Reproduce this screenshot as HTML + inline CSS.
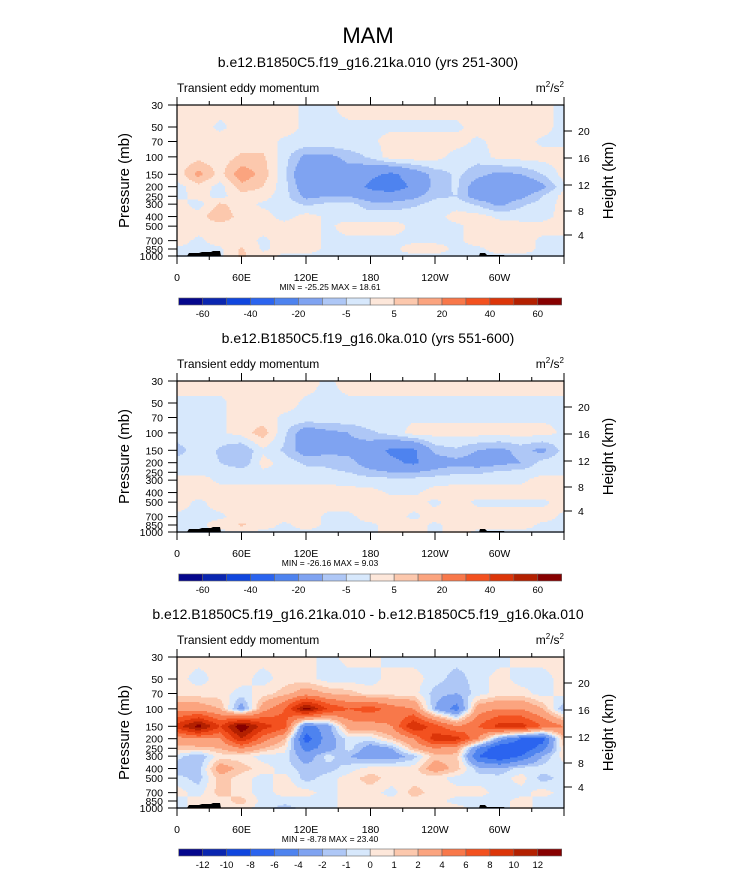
<!DOCTYPE html>
<html><head><meta charset="utf-8">
<style>
body{margin:0;background:#fff;}
svg text{font-family:"Liberation Sans",sans-serif;fill:#000;}
</style></head>
<body>
<svg id="fig" width="733" height="872" xmlns="http://www.w3.org/2000/svg">
<text x="368" y="43" font-size="22" text-anchor="middle">MAM</text>
</svg>
<script>
// ---------- data ----------
const lons = [0,20,40,60,80,100,120,140,160,180,200,220,240,260,280,300,320,340,360];
const levels = [30,50,70,100,150,200,250,300,400,500,700,850,1000];
const pTicks = [30,50,70,100,150,200,250,300,400,500,700,850,1000];
const lonTicks = [0,60,120,180,240,300];
const lonTickLabels = ["0","60E","120E","180","120W","60W"];
const kmTickLabels = ["20","16","12","8","4"];
const contourA = [-60,-50,-40,-30,-20,-10,-5,0,5,10,20,30,40,50,60];
const labelsA = ["-60","-40","-20","-5","5","20","40","60"];
const contourB = [-12,-10,-8,-6,-4,-2,-1,0,1,2,4,6,8,10,12];
const labelsB = ["-12","-10","-8","-6","-4","-2","-1","0","1","2","4","6","8","10","12"];
const colors = ["#05078c","#0a26b0","#1046de","#2b64ef","#4e83ef","#7fa3f1","#aec7f6","#d7e8fc","#fde7da","#fcc8ad","#fba47f","#f8784a","#f3511f","#dc3509","#b32000","#870000"];

const field1 = [
[2,2,2,2,2,2,-1,-1,2,2,2,2,2,2,2,2,2,2,-2],
[2,2,-1,2,2,2,-1,-1,-1,-1,-1,-1,-1,-1,2,2,2,2,-2],
[2,2,2,2,2,-1,-1,-1,-1,-1,2,2,2,2,-1,2,2,-1,-1],
[2,3,2,6,6,-3,-12,-12,-8,-4,3,3,2,-2,-3,2,2,2,2],
[2,12,3,14,8,-4,-18,-15,-13,-18,-22,-15,-8,-4,-8,-12,-10,-5,2],
[-2,3,-2,8,5,-3,-15,-12,-15,-22,-26,-18,-8,-4,-15,-16,-18,-12,-1],
[-2,2,-2,3,2,-3,-12,-10,-10,-15,-15,-12,-6,-5,-14,-15,-12,-5,2],
[2,-2,6,2,-1,-2,-6,-4,-3,-8,-8,-6,-3,-2,-6,-12,-6,-3,2],
[2,2,10,2,2,-2,2,-1,-2,-2,-2,-2,-2,2,2,-1,-2,-2,2],
[2,2,2,2,2,2,2,-1,2,2,2,-1,-1,-1,2,2,2,2,2],
[2,-1,2,2,-1,2,2,-1,-1,-1,-1,-1,-1,-1,2,2,2,-1,-1],
[-1,-1,-1,6,-1,2,2,-1,-1,-1,-1,2,2,-1,-1,2,2,-1,-1],
[-1,-1,-1,6,2,-1,-1,-1,-1,-1,-1,-1,-1,-1,-1,-1,-1,-1,-1]
];
const field2 = [
[2,2,2,2,2,2,2,-1,2,2,2,2,2,2,2,2,2,2,2],
[-1,-1,-1,2,2,2,-1,-1,-1,-1,-1,-1,-1,-1,-1,-1,-1,-1,-1],
[-1,-1,-1,2,2,-1,-1,-1,-1,-1,-1,-1,-1,-1,-1,-1,-1,-1,-1],
[-1,-1,-1,2,8,-4,-15,-12,-10,-6,-3,2,2,2,2,2,2,2,-1],
[-8,-1,-6,-10,-1,-6,-14,-12,-12,-15,-22,-22,-8,-6,-10,-12,-8,-12,-3],
[-2,-1,-5,-10,2,-2,-6,-6,-8,-14,-18,-22,-14,-12,-14,-12,-10,-3,-1],
[-1,-1,-1,-1,-1,-1,-3,-4,-5,-8,-10,-10,-8,-6,-6,-4,-3,-1,-1],
[2,2,-1,-1,-1,-1,-1,-1,-2,-3,-3,-3,-2,-1,-1,-1,-1,2,2],
[2,2,2,2,2,2,2,2,2,2,-1,-1,2,2,2,2,2,2,2],
[2,-1,2,2,2,2,2,2,2,2,2,2,-1,2,-1,-1,-1,-1,2],
[-1,-1,-1,2,2,2,2,-1,-1,2,2,-1,2,2,2,2,2,2,-1],
[-1,-1,2,6,2,-1,2,-1,-1,-1,2,2,-1,2,2,2,2,-1,-1],
[-1,-1,-1,-1,-1,-1,-1,-1,-1,-1,2,2,-1,2,-1,-1,-1,-1,-1]
];
const field3 = [
[0.5,0.5,0.5,0.5,0.5,0.5,0.5,-0.5,0.5,0.5,-0.5,-0.5,-0.5,-0.5,-0.5,-0.5,0.5,0.5,0.5],
[0.5,-0.5,0.5,0.5,-0.5,0.5,0.5,-0.5,-0.5,-0.5,0.5,0.5,-0.5,-1.5,-0.5,0.5,-0.5,-0.5,0.5],
[0.5,0.5,0.5,-0.5,0.5,1.5,3,2,1.5,0.5,0.5,0.5,-1.5,-2,-0.5,0.5,0.5,-0.5,0.5],
[3,3,2,-3,3,6,13,8,6,7,5,4,-2,-5,3,4,4,2,-2],
[9,13,8,14,9,7,-5,-3,3,3,4,10,7,4,6,9,9,6,4],
[3,4,4,10,5,2,-7,-3,-0.5,-0.5,1.5,4,9,9,4,-3,-6,-7,2],
[1.5,1.5,2,4,2,0.5,-5,-3,-0.5,-3,-2,2,4,3,-4,-8,-8,-5,1],
[-0.5,-2,0.5,0.5,-0.5,-0.5,-3,-0.5,-2,-3,-3,-1.5,1.5,1.5,-6,-8,-6,-2,0.5],
[-2,-1.5,3,1.5,0.5,-0.5,-1.5,-1.5,-0.5,0.5,0.5,0.5,3,1.5,-1.5,-2,-0.5,-0.5,-0.5],
[-0.5,-1.5,1.5,0.5,-0.5,0.5,-1.5,-0.5,0.5,1.5,0.5,0.5,0.5,-0.5,-0.5,-0.5,0.5,-1.5,-0.5],
[0.5,-0.5,1.5,0.5,-0.5,0.5,0.5,-0.5,0.5,0.5,-0.5,1.5,0.5,0.5,0.5,-0.5,-0.5,0.5,-0.5],
[-0.5,0.5,0.5,1.5,-0.5,-0.5,-0.5,-0.5,0.5,0.5,0.5,0.5,0.5,-0.5,-0.5,-0.5,0.5,-0.5,-0.5],
[-0.5,0.5,0.5,0.5,-0.5,-1.5,-0.5,-0.5,0.5,0.5,0.5,0.5,0.5,0.5,-0.5,-0.5,0.5,-0.5,-0.5]
];

// ---------- drawing ----------
const NS = "http://www.w3.org/2000/svg";
const svg = document.getElementById('fig');
const X0 = 177, W = 387, H = 151;
function mk(tag, attrs, parent){
  const e = document.createElementNS(NS, tag);
  for (const k in attrs) e.setAttribute(k, attrs[k]);
  (parent||svg).appendChild(e);
  return e;
}
function xScale(lon){ return X0 + lon/360*W; }
function yScale(p, T){ return T + H*Math.log(p/30)/Math.log(1000/30); }
function levelIndex(v, cont){ let i=0; while(i<cont.length && v>=cont[i]) i++; return i; }
function sample(field, lon, p){
  let i = Math.min(Math.floor(lon/20), lons.length-2);
  const fx = (lon - lons[i])/20;
  const lp = Math.log(p);
  let j = 0; while(j<levels.length-2 && Math.log(levels[j+1])<lp) j++;
  const fy = (lp-Math.log(levels[j]))/(Math.log(levels[j+1])-Math.log(levels[j]));
  const a = field[j][i], b = field[j][i+1], c = field[j+1][i], d = field[j+1][i+1];
  return (a*(1-fx)+b*fx)*(1-fy) + (c*(1-fx)+d*fx)*fy;
}

function panel(T, field, cont, labels, subtitle, minmax, cbY, nm){
  const g = mk('g', {});
  
  
  const t = mk('text', {x:368, y:T-38, 'font-size':14, 'text-anchor':'middle'}, g);
  t.textContent = subtitle;
  
  
  const l1 = mk('text', {x:X0, y:T-13, 'font-size':12}, g);
  l1.textContent = 'Transient eddy momentum';
  
  
  const u = mk('text', {x:X0+W, y:T-13, 'font-size':12, 'text-anchor':'end'}, g);
  u.innerHTML = 'm<tspan dy="-5" font-size="8">2</tspan><tspan dy="5">/s</tspan><tspan dy="-5" font-size="8">2</tspan>';
  
  
  const fg = mk('g', {'shape-rendering':'crispEdges'}, g);
  
  
  const step = 1.5;
  for (let y = T; y < T+H; y += step){
    const p = 30*Math.exp((y+step/2-T)/H*Math.log(1000/30));
    let runStart = X0, runCol = -1;
    for (let x = X0; x <= X0+W; x += step){
      let col = -2;
      if (x < X0+W){
        const lon = (x+step/2-X0)/W*360;
        col = levelIndex(sample(field, Math.min(lon,359.99), p), cont);
      }
      if (col !== runCol){
        if (runCol >= 0){
          const r = mk('rect', {x:runStart, y:y, width:x-runStart+0.3, height:step+0.3, fill:colors[runCol]}, fg);
          
          
        }
        runStart = x; runCol = col;
      }
    }
  }
  const yb = T+H;
  const topo = mk('path', {d:`M${X0+10} ${yb} L${X0+12} ${yb-3} L${X0+22} ${yb-3} L${X0+25} ${yb-4} L${X0+34} ${yb-4} L${X0+36} ${yb-5} L${X0+43} ${yb-5} L${X0+44} ${yb} Z M${X0+302} ${yb} L${X0+303} ${yb-3} L${X0+308} ${yb-3} L${X0+310} ${yb-1} L${X0+327} ${yb-1} L${X0+328} ${yb} Z`, fill:'#000'}, g);
  
  
  const fr = mk('rect', {x:X0, y:T, width:W, height:H, fill:'none', stroke:'#000', 'stroke-width':1.2}, g);
  
  
  pTicks.forEach(p=>{
    const y = yScale(p, T);
    mk('line', {x1:X0-9, x2:X0, y1:y, y2:y, stroke:'#000', 'stroke-width':1}, g);
    const tx = mk('text', {x:X0-14, y:y+4, 'font-size':10.5, 'text-anchor':'end'}, g);
    tx.textContent = p;
    
    
  });
  const yl = mk('text', {x:0, y:0, 'font-size':15, 'text-anchor':'middle', transform:`translate(129 ${T+H/2}) rotate(-90)`}, g);
  yl.textContent = 'Pressure (mb)';
  
  
  [26,53,80,106,130].forEach((dy,k)=>{
    const y = T+dy;
    mk('line', {x1:X0+W, x2:X0+W+8, y1:y, y2:y, stroke:'#000'}, g);
    const tx = mk('text', {x:X0+W+14, y:y+4, 'font-size':10.5}, g);
    tx.textContent = kmTickLabels[k];
    
    
  });
  const hl = mk('text', {x:0, y:0, 'font-size':15, 'text-anchor':'middle', transform:`translate(613 ${T+H/2}) rotate(-90)`}, g);
  hl.textContent = 'Height (km)';
  
  
  for (let lon = 0; lon <= 360; lon += 30){
    const x = xScale(lon), major = lon % 60 === 0;
    const len = major ? 8 : 4;
    mk('line', {x1:x, x2:x, y1:T, y2:T-len, stroke:'#000'}, g);
    mk('line', {x1:x, x2:x, y1:T+H, y2:T+H+len, stroke:'#000'}, g);
  }
  lonTicks.forEach((lon,k)=>{
    const tx = mk('text', {x:xScale(lon), y:T+H+25, 'font-size':10.5, 'text-anchor':'middle'}, g);
    tx.textContent = lonTickLabels[k];
    
    
  });
  const mm = mk('text', {x:330, y:T+H+34, 'font-size':8.5, 'text-anchor':'middle'}, g);
  mm.textContent = minmax;
  
  
  const cbX = 178.7, cbW = 383, bw = cbW/16;
  const cg = mk('g', {}, g);
  
  
  colors.forEach((c,k)=>{
    const r = mk('rect', {x:cbX+k*bw, y:cbY, width:bw, height:7, fill:c, stroke:'#666', 'stroke-width':0.6}, cg);
    
    
  });
  const every = labels.length === cont.length ? 1 : 2;
  labels.forEach((lab,k)=>{
    const tx = mk('text', {x:cbX+(every*k+1)*bw, y:cbY+19, 'font-size':9.5, 'text-anchor':'middle'}, cg);
    tx.textContent = lab;
    
    
  });
}
panel(105, field1, contourA, labelsA, 'b.e12.B1850C5.f19_g16.21ka.010 (yrs 251-300)', 'MIN = -25.25  MAX =  18.61', 298, 'panel-21ka');
panel(381, field2, contourA, labelsA, 'b.e12.B1850C5.f19_g16.0ka.010 (yrs 551-600)', 'MIN = -26.16  MAX =   9.03', 574, 'panel-0ka');
panel(657, field3, contourB, labelsB, 'b.e12.B1850C5.f19_g16.21ka.010 - b.e12.B1850C5.f19_g16.0ka.010', 'MIN =  -8.78  MAX =  23.40', 849, 'panel-difference');
</script>
</body></html>
